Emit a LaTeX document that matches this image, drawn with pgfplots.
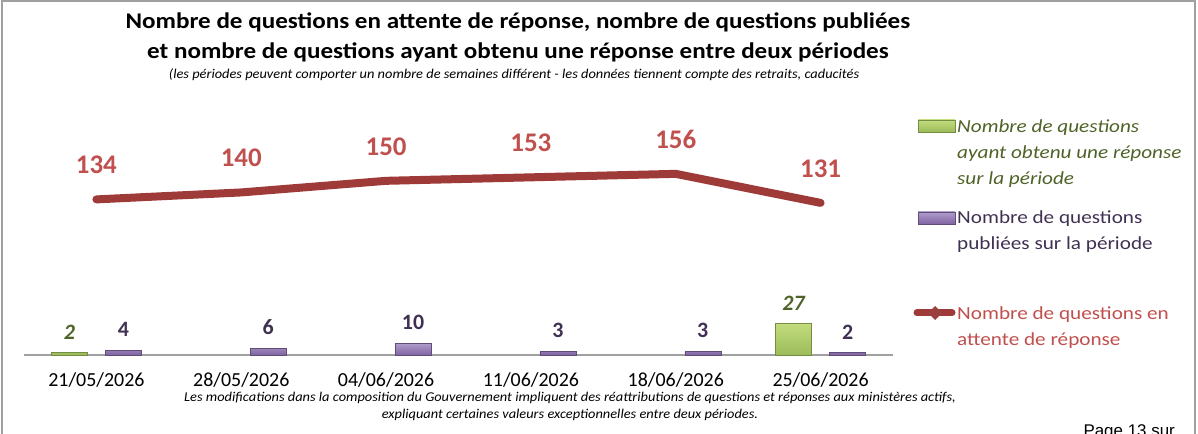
\documentclass[border=0pt]{standalone}
\usepackage{pgfplots}
\pgfplotsset{compat=1.18}
\usepackage{fontspec}
\setmainfont{Carlito}
\newfontfamily\arialfont{Liberation Sans}
\definecolor{linered}{HTML}{9E3B38}
\definecolor{labred}{HTML}{C0504D}
\definecolor{gbar}{HTML}{9BBB59}
\definecolor{gbarl}{HTML}{C3DC7E}
\definecolor{gtxt}{HTML}{4F6228}
\definecolor{pbar}{HTML}{8064A2}
\definecolor{pbarl}{HTML}{B09DCB}
\definecolor{ptxt}{HTML}{403152}
\definecolor{frame}{HTML}{A0A0A0}
\begin{document}
\begin{tikzpicture}[x=1bp,y=1bp]
\path[use as bounding box] (0,0) rectangle (1198,434);
\draw[frame, line width=2bp] (2,-10) -- (2,433) -- (1195,433) -- (1195,-10);
% titles
\node[font=\fontsize{22.5}{26}\selectfont\bfseries, xscale=1.12] at (518,412) {Nombre de questions en attente de réponse, nombre de questions publiées};
\node[font=\fontsize{22.5}{26}\selectfont\bfseries, xscale=1.12] at (518,382) {et nombre de questions ayant obtenu une réponse entre deux périodes};
\node[font=\fontsize{13.5}{14}\selectfont\itshape, xscale=1.07] at (514,359) {(les périodes peuvent comporter un nombre de semaines différent - les données tiennent compte des retraits, caducités};
% footnote
\node[font=\fontsize{13.5}{14}\selectfont\itshape, xscale=1.07] at (570,36) {Les modifications dans la composition du Gouvernement impliquent des réattributions de questions et réponses aux ministères actifs,};
\node[font=\fontsize{13.5}{14}\selectfont\itshape, xscale=1.07] at (570,19) {expliquant certaines valeurs exceptionnelles entre deux périodes.};
\node[font=\arialfont\fontsize{17}{20}\selectfont, anchor=base west] at (1080,-3) {Page 13 sur};
\begin{axis}[
  at={(24bp,79bp)}, anchor=south west,
  scale only axis, width=869bp, height=245bp,
  xmin=-0.5, xmax=5.5, ymin=0, ymax=211,
  axis x line=bottom, axis y line=none,
  x axis line style={-, draw=frame, line width=1.5bp},
  xtick={0,1,2,3,4,5},
  xticklabels={21/05/2026,28/05/2026,04/06/2026,11/06/2026,18/06/2026,25/06/2026},
  major tick length=0pt,
  xticklabel style={font=\fontsize{20}{24}\selectfont, yshift=-14bp},
  /pgf/number format/assume math mode=true,
  clip=false,
]
\addplot[ybar, bar width=36bp, bar shift=-27bp, draw=gbar!75!black, line width=0.5bp,
  top color=gbarl, bottom color=gbar,
  nodes near coords, every node near coord/.append style={font=\fontsize{22}{26}\selectfont\bfseries\itshape, text=gtxt, anchor=south, xshift=-27bp, yshift=10bp}]
  coordinates {(0,2) (5,27)};
\addplot[ybar, bar width=36bp, bar shift=27bp, draw=pbar!75!black, line width=0.5bp,
  top color=pbarl, bottom color=pbar,
  nodes near coords, every node near coord/.append style={font=\fontsize{22}{26}\selectfont\bfseries, text=ptxt, anchor=south, xshift=27bp, yshift=10bp}]
  coordinates {(0,4) (1,6) (2,10) (3,3) (4,3) (5,2)};
\addplot[linered, line width=8bp, line cap=round, line join=round, mark=none,
  nodes near coords, every node near coord/.append style={font=\fontsize{27}{30}\selectfont\bfseries, text=labred, anchor=south, yshift=18bp}]
  coordinates {(0,134) (1,140) (2,150) (3,153) (4,156) (5,131)};
\end{axis}
% legend
\shade[top color=gbarl, bottom color=gbar, draw=gbar!75!black] (918,314) rectangle (955,302);
\node[anchor=north west, inner sep=0pt, align=left, font=\fontsize{18.5}{26}\selectfont\itshape, text=gtxt, xscale=1.15] at (957,314) {Nombre de questions\\ayant obtenu une réponse\\sur la période};
\shade[top color=pbarl, bottom color=pbar, draw=pbar!75!black] (918,222) rectangle (955,210);
\node[anchor=north west, inner sep=0pt, align=left, font=\fontsize{18.5}{26}\selectfont, text=ptxt, xscale=1.15] at (957,223) {Nombre de questions\\publiées sur la période};
\draw[linered, line width=7bp, line cap=round] (917,121) -- (952,121);
\fill[labred!80!black] (935,128) -- (942,121) -- (935,114) -- (928,121) -- cycle;
\node[anchor=north west, inner sep=0pt, align=left, font=\fontsize{18.5}{26}\selectfont, text=labred, xscale=1.15] at (957,127) {Nombre de questions en\\attente de réponse};
\end{tikzpicture}
\end{document}
